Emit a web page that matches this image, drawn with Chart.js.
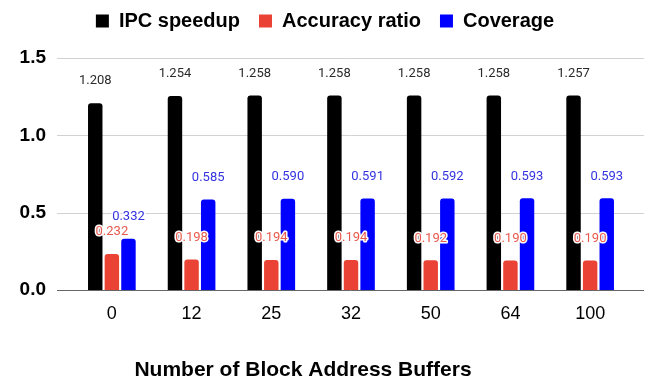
<!DOCTYPE html>
<html lang="en">

<head>
  <meta charset="UTF-8">
  <title>Block Address Buffers</title>
  <style>
    body { margin: 0; background: #fff; }
    #wrap { width: 648px; height: 388px; }
  </style>
</head>

<body>
  <script src="https://cdn.jsdelivr.net/npm/chart.js"></script>

  <div id="wrap"><canvas id="barChart"></canvas></div>
  <script>
    const categories = ['0', '12', '25', '32', '50', '64', '100'];
    const ipcSpeedup = [1.208, 1.254, 1.258, 1.258, 1.258, 1.258, 1.257];
    const accuracyRatio = [0.232, 0.198, 0.194, 0.194, 0.192, 0.190, 0.190];
    const coverage = [0.332, 0.585, 0.590, 0.591, 0.592, 0.593, 0.593];
    const xTitle = 'Number of Block Address Buffers';

    // more room under the legend
    const legendGap = {
      id: 'legendGap',
      beforeInit(chart) {
        const fit = chart.legend.fit;
        chart.legend.fit = function () {
          fit.bind(chart.legend)();
          this.height += 17;
        };
      }
    };

    // gridlines run a bit past the plot area, like the original
    const wideGrid = {
      id: 'wideGrid',
      beforeDatasetsDraw(chart) {
        const { ctx, chartArea, scales } = chart;
        ctx.save();
        scales.y.ticks.forEach(t => {
          const py = Math.round(scales.y.getPixelForValue(t.value)) + 0.5;
          ctx.strokeStyle = t.value === 0 ? '#666666' : '#d2d2d2';
          ctx.lineWidth = 1;
          ctx.beginPath();
          ctx.moveTo(chartArea.left - 15, py);
          ctx.lineTo(chartArea.right + 14, py);
          ctx.stroke();
        });
        ctx.restore();
      }
    };

    // value labels above each bar
    const valueLabels = {
      id: 'valueLabels',
      afterDatasetsDraw(chart) {
        const ctx = chart.ctx;
        ctx.save();
        ctx.font = '13px Roboto';
        ctx.textAlign = 'center';
        ctx.textBaseline = 'middle';
        chart.data.datasets.forEach((ds, i) => {
          chart.getDatasetMeta(i).data.forEach((bar, j) => {
            const txt = ds.data[j].toFixed(3);
            if (ds.labelStroke) {
              ctx.strokeStyle = ds.labelStroke;
              ctx.lineWidth = 3;
              ctx.lineJoin = 'round';
              ctx.strokeText(txt, bar.x, bar.y - 22);
            }
            ctx.fillStyle = ds.labelColor;
            ctx.fillText(txt, bar.x, bar.y - 22);
          });
        });
        ctx.restore();
      }
    };

    // axis title sits left of centre in the original
    const xAxisTitle = {
      id: 'xAxisTitle',
      afterDraw(chart) {
        const ctx = chart.ctx;
        ctx.save();
        ctx.font = 'bold 21px "Liberation Sans"';
        ctx.fillStyle = '#000';
        ctx.textAlign = 'center';
        ctx.textBaseline = 'middle';
        ctx.fillText(xTitle, chart.chartArea.left + 231, chart.chartArea.bottom + 80);
        ctx.restore();
      }
    };

    const ctx = document.getElementById('barChart').getContext('2d');
    const barChart = new Chart(ctx, {
      type: 'bar',
      data: {
        labels: categories,
        datasets: [{
          label: 'IPC speedup',
          data: ipcSpeedup,
          backgroundColor: '#000000',
          labelColor: '#2a2a2a',
          labelStroke: '#ffffff'
        }, {
          label: 'Accuracy ratio',
          data: accuracyRatio,
          backgroundColor: '#ea4335',
          labelColor: '#e8594d',
          labelStroke: '#ffffff'
        }, {
          label: 'Coverage',
          data: coverage,
          backgroundColor: '#0000ff',
          labelColor: '#3333e0',
          labelStroke: '#ffffff'
        }]
      },
      options: {
        responsive: true,
        maintainAspectRatio: false,
        animation: false,
        categoryPercentage: 0.625,
        barPercentage: 0.87,
        borderRadius: { topLeft: 3, topRight: 3 },
        borderSkipped: 'bottom',
        layout: {
          padding: { left: 20, right: 18, top: -8, bottom: 65 }
        },
        plugins: {
          legend: {
            position: 'top',
            labels: {
              boxWidth: 13,
              boxHeight: 13,
              padding: 19,
              color: '#000',
              font: { family: 'Liberation Sans', size: 20, weight: 'bold' }
            }
          },
          tooltip: { enabled: false }
        },
        scales: {
          x: {
            grid: { display: false, drawTicks: false },
            border: { display: false },
            afterFit: s => { s.height = 33; },
            ticks: {
              padding: 13,
              color: '#000',
              font: { family: 'Liberation Sans', size: 18 }
            }
          },
          y: {
            min: 0,
            max: 1.5,
            grid: { display: false, drawTicks: false },
            border: { display: false },
            afterFit: s => { s.width = 52; },
            ticks: {
              stepSize: 0.5,
              padding: 26,
              color: '#000',
              font: { family: 'Liberation Sans', size: 19, weight: 'bold' },
              callback: v => v.toFixed(1)
            }
          }
        }
      },
      plugins: [legendGap, wideGrid, valueLabels, xAxisTitle]
    });
  </script>
</body>

</html>
